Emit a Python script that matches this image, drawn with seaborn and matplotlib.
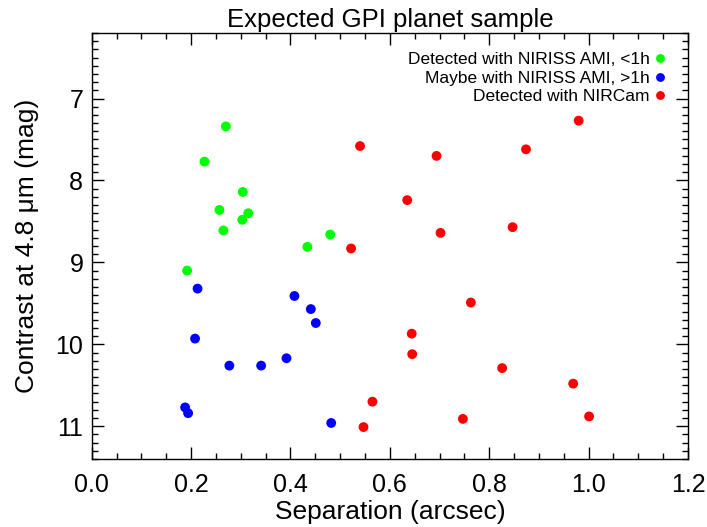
# Contraste esperado a 4.8 um versus separacao para a amostra de planetas do GPI
import pandas as pd
import seaborn as sns
import matplotlib.pyplot as plt
from matplotlib.ticker import MultipleLocator

# Planetas detectados com NIRISS AMI em menos de 1h
sep_ami_rapido = [0.270, 0.227, 0.304, 0.257, 0.315, 0.303, 0.265, 0.480, 0.434, 0.192]
con_ami_rapido = [7.34, 7.77, 8.14, 8.36, 8.40, 8.48, 8.61, 8.66, 8.81, 9.10]

# Planetas talvez detectados com NIRISS AMI (mais de 1h)
sep_ami_lento = [0.213, 0.408, 0.441, 0.451, 0.208, 0.392, 0.277, 0.341, 0.188, 0.194, 0.482]
con_ami_lento = [9.32, 9.41, 9.57, 9.74, 9.93, 10.17, 10.26, 10.26, 10.77, 10.84, 10.96]

# Planetas detectados com NIRCam
sep_nircam = [0.540, 0.980, 0.694, 0.874, 0.635, 0.702, 0.847, 0.522, 0.763,
              0.644, 0.645, 0.826, 0.969, 0.565, 0.747, 0.547, 1.001]
con_nircam = [7.58, 7.27, 7.70, 7.62, 8.24, 8.64, 8.57, 8.83, 9.49,
              9.87, 10.12, 10.29, 10.48, 10.70, 10.91, 11.01, 10.88]

grupos = ["Detected with NIRISS AMI, <1h", "Maybe with NIRISS AMI, >1h", "Detected with NIRCam"]
cores = {grupos[0]: "#00ff00", grupos[1]: "#0000ff", grupos[2]: "#ff0000"}

df = pd.DataFrame({
    "sep": sep_ami_rapido + sep_ami_lento + sep_nircam,
    "con": con_ami_rapido + con_ami_lento + con_nircam,
    "grupo": [grupos[0]] * len(sep_ami_rapido) + [grupos[1]] * len(sep_ami_lento)
             + [grupos[2]] * len(sep_nircam),
})

sns.set_theme(style="ticks")
plt.rcParams["font.family"] = ["Liberation Sans", "DejaVu Sans"]
# texto todo em preto, como no original
plt.rcParams.update({"text.color": "black", "axes.labelcolor": "black",
                     "xtick.color": "black", "ytick.color": "black",
                     "axes.edgecolor": "black"})

fig = plt.figure(figsize=(7.07, 5.27), dpi=100)
ax = fig.add_axes([0.1297, 0.129, 0.8434, 0.8084])

sns.scatterplot(data=df, x="sep", y="con", hue="grupo", hue_order=grupos,
                palette=cores, s=50, linewidth=0, ax=ax)

ax.set_xlim(0, 1.2)
ax.set_ylim(11.4, 6.2)
ax.xaxis.set_major_locator(MultipleLocator(0.2))
ax.xaxis.set_minor_locator(MultipleLocator(0.05))
ax.yaxis.set_major_locator(MultipleLocator(1))
ax.yaxis.set_minor_locator(MultipleLocator(0.1))
ax.xaxis.set_major_formatter(plt.FormatStrFormatter("%.1f"))
ax.tick_params(which="both", direction="in", top=True, right=True, width=1)
ax.tick_params(which="major", length=8.6)
ax.tick_params(which="minor", length=4.3)
ax.tick_params(axis="x", labelsize=18, pad=10)
ax.tick_params(axis="y", labelsize=18, pad=6)
for lado in ax.spines.values():
    lado.set_linewidth(1)

ax.set_xlabel("Separation (arcsec)", fontsize=19, labelpad=2)
ax.set_ylabel("Contrast at 4.8 μm (mag)", fontsize=19, labelpad=12)
ax.set_title("Expected GPI planet sample", fontsize=18.5, pad=4)

handles, labels = ax.get_legend_handles_labels()
ax.legend(handles, labels, loc="upper right", markerfirst=False, frameon=False,
          fontsize=12.5, handletextpad=0.1, labelspacing=0.2, handlelength=1.0,
          borderaxespad=0.7, markerscale=0.9)

plt.savefig("out.png", dpi=100)
